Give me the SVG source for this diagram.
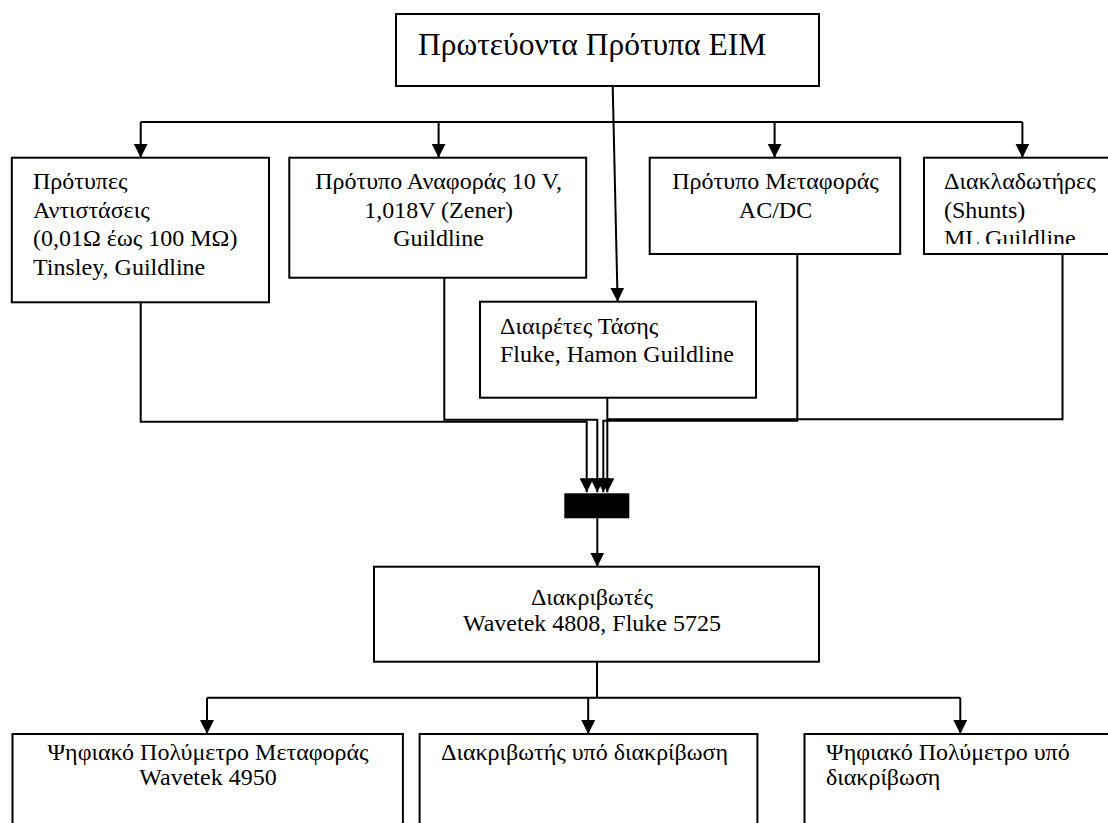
<svg xmlns="http://www.w3.org/2000/svg" width="1108" height="823" viewBox="0 0 1108 823" font-family="'Liberation Serif', 'Times New Roman', serif">
<style>
  .box { fill: #ffffff; stroke: #000000; stroke-width: 2; }
  .ln { fill: none; stroke: #000000; stroke-width: 2; }
  .arr { fill: none; stroke: #000000; stroke-width: 2; marker-end: url(#ah); }
  text { font-family: "Liberation Serif", "Times New Roman", serif; font-size: 24px; fill: #000000; }
  .title { font-size: 31.5px; }
  .mid { text-anchor: middle; }
</style>
<defs>
  <marker id="ah" markerUnits="userSpaceOnUse" markerWidth="14" markerHeight="14" refX="14" refY="7" orient="auto" viewBox="0 0 14 14">
    <path d="M0,0 L14,7 L0,14 z" fill="#000000"/>
  </marker>
  <clipPath id="clip4"><rect x="924" y="157" width="190" height="87"/></clipPath>
</defs>
<rect x="0" y="0" width="1108" height="823" fill="#ffffff"/>

<g id="connectors">
  <polyline class="ln" points="140.7,122 1022.4,122"/>
  <line class="arr" x1="140.7" y1="122" x2="140.7" y2="157.7"/>
  <line class="arr" x1="438.6" y1="122" x2="438.6" y2="157.7"/>
  <line class="arr" x1="774.6" y1="122" x2="774.6" y2="157.7"/>
  <line class="arr" x1="1022.4" y1="122" x2="1022.4" y2="157.7"/>
  <line class="arr" x1="612.7" y1="86" x2="617.6" y2="301.7"/>
  <polyline class="arr" points="140.7,302.3 140.7,421.7 586.7,421.7 586.7,492.3"/>
  <polyline class="arr" points="444.3,277.7 444.3,419.8 597.3,419.8 597.3,492.3"/>
  <polyline class="arr" points="797.3,254 797.3,420.7 603.3,420.7 603.3,492.3"/>
  <polyline class="ln" points="1062.5,254 1062.5,419.3 607.3,419.3"/>
  <line class="arr" x1="607.3" y1="397.7" x2="607.3" y2="492.3"/>
  <line class="arr" x1="597.3" y1="518.3" x2="597.3" y2="566.7"/>
  <line class="ln" x1="597" y1="661.7" x2="597" y2="697.7"/>
  <polyline class="ln" points="207,697.7 960.3,697.7"/>
  <line class="arr" x1="207" y1="697.7" x2="207" y2="734"/>
  <line class="arr" x1="588.2" y1="697.7" x2="588.2" y2="734"/>
  <line class="arr" x1="960.3" y1="697.7" x2="960.3" y2="734"/>
</g>

<g id="node-primary">
  <rect class="box" x="396" y="14" width="423" height="72"/>
  <text class="title" x="418" y="55">Πρωτεύοντα Πρότυπα EIM</text>
</g>

<g id="node-resistors">
  <rect class="box" x="11.8" y="157.7" width="257.2" height="144.6"/>
  <text x="33" y="189">Πρότυπες</text>
  <text x="33" y="217.5">Αντιστάσεις</text>
  <text x="33" y="246">(0,01Ω έως 100 ΜΩ)</text>
  <text x="33" y="274.5">Tinsley, Guildline</text>
</g>

<g id="node-reference">
  <rect class="box" x="289.3" y="157.7" width="296.9" height="120"/>
  <text class="mid" x="438.6" y="189">Πρότυπο Αναφοράς 10 V,</text>
  <text class="mid" x="438.6" y="217.5">1,018V (Zener)</text>
  <text class="mid" x="438.6" y="246">Guildline</text>
</g>

<g id="node-transfer">
  <rect class="box" x="649.7" y="157.7" width="250.5" height="96.3"/>
  <text class="mid" x="775.5" y="189">Πρότυπο Μεταφοράς</text>
  <text class="mid" x="775.5" y="217.5">AC/DC</text>
</g>

<g id="node-shunts">
  <rect class="box" x="924" y="157.7" width="200" height="96.3"/>
  <g clip-path="url(#clip4)">
    <text x="944" y="189">Διακλαδωτήρες</text>
    <text x="944" y="217.5">(Shunts)</text>
    <text x="944" y="246">ML Guildline</text>
  </g>
</g>

<g id="node-dividers">
  <rect class="box" x="480" y="301.7" width="276" height="96"/>
  <text x="500" y="334">Διαιρέτες Τάσης</text>
  <text x="500" y="362">Fluke, Hamon Guildline</text>
</g>

<g id="node-block">
  <rect x="564.3" y="493.3" width="65" height="25" fill="#000000"/>
</g>

<g id="node-calibrators">
  <rect class="box" x="374" y="566.7" width="445" height="95"/>
  <text class="mid" x="592" y="604.5">Διακριβωτές</text>
  <text class="mid" x="592" y="630.5">Wavetek 4808, Fluke 5725</text>
</g>

<g id="node-dmm-transfer">
  <rect class="box" x="12.5" y="734" width="390.4" height="110"/>
  <text class="mid" x="208" y="760">Ψηφιακό Πολύμετρο Μεταφοράς</text>
  <text class="mid" x="208" y="785">Wavetek 4950</text>
</g>

<g id="node-calibrator-uut">
  <rect class="box" x="419.6" y="734" width="337.8" height="110"/>
  <text x="441" y="760">Διακριβωτής υπό διακρίβωση</text>
</g>

<g id="node-dmm-uut">
  <rect class="box" x="804.5" y="734" width="320" height="110"/>
  <text x="826" y="760">Ψηφιακό Πολύμετρο υπό</text>
  <text x="826" y="785">διακρίβωση</text>
</g>
</svg>
